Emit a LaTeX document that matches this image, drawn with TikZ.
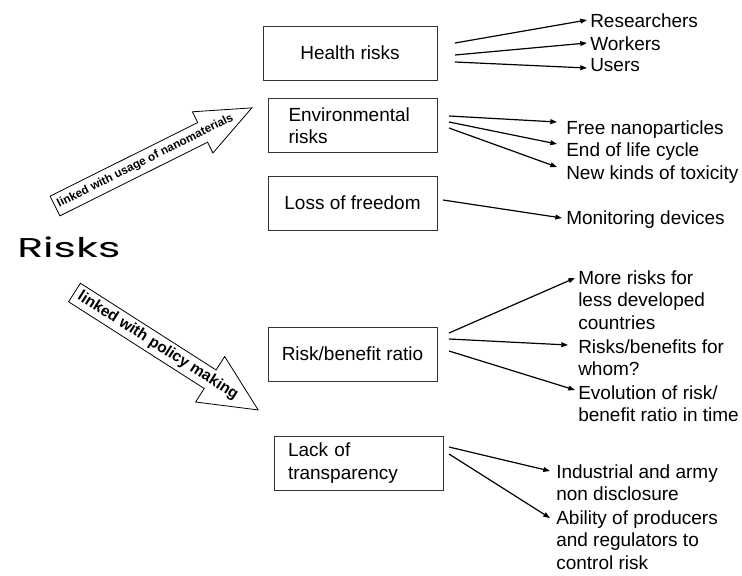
\documentclass[tikz,border=0pt]{standalone}
\usepackage{fontspec}
\usepackage{graphicx}
\setmainfont{Liberation Sans}
\newfontfamily\risksfont{Poppins}
\usetikzlibrary{arrows.meta,calc}

\tikzset{
  riskbox/.style={draw=black!80, line width=0.6pt, minimum width=126.75pt, minimum height=40.5pt, inner sep=0pt, font=\fontsize{14.25}{16.9}\selectfont},
  leftbox/.style={riskbox, align=left, text width=#1},
  item/.style={anchor=north west, inner sep=0pt, align=left, font=\fontsize{14.25}{16.9}\selectfont},
  conn/.style={line width=0.9pt, -{Triangle[length=5pt,width=3.6pt]}},
  bigarrow/.style={draw=black, line width=0.6pt, fill=white},
  arrowtext/.style={font=\bfseries\fontsize{#1}{#1}\selectfont, inner sep=0pt},
}

\begin{document}
\begin{tikzpicture}[x=0.75pt,y=0.75pt,yscale=-1,xscale=1]
\useasboundingbox (0,0) rectangle (742,575);

% Title
\node[inner sep=0pt, anchor=west] (risks) at (17,247) {\resizebox{77.25pt}{15.5pt}{\risksfont Risks}};

%Block Arrows
\begin{scope}[shift={(55,206)}, rotate=-26.5]
\draw[bigarrow] (0,-11) -- (165,-11) -- (165,-23) -- (220,0) -- (165,23) -- (165,11) -- (0,11) -- cycle;
\node[arrowtext=8.8, rotate=26.5] (usage) at (101,0) {linked with usage of nanomaterials};
\end{scope}
\begin{scope}[shift={(74.5,292.5)}, rotate=32.6]
\draw[bigarrow] (0,-11) -- (161,-11) -- (161,-27) -- (218,0) -- (161,27) -- (161,11) -- (0,11) -- cycle;
\node[arrowtext=11.6, rotate=-32.6] (policy) at (99,0) {linked with policy making};
\end{scope}

% Boxes
\node[riskbox, minimum width=130.5pt] (health) at (350,53) {Health risks};
\node[leftbox=96pt] (env) at (352.5,125.5) {Environmental\\risks};
\node[riskbox] (loss) at (352.5,203) {Loss of freedom};
\node[riskbox] (ratio) at (352.5,354) {Risk/benefit ratio};
\node[leftbox=105.75pt] (lack) at (358.5,463) {Lack of\\transparency};

% Text Nodes
\node[item] (res) at (590,13) {Researchers};
\node[item] (work) at (590,36) {Workers};
\node[item] (users) at (590,58) {Users};
\node[item] (free) at (566,120) {Free nanoparticles};
\node[item] (life) at (566,142) {End of life cycle};
\node[item] (tox) at (566,165) {New kinds of toxicity};
\node[item] (mon) at (566,210) {Monitoring devices};
\node[item] (more) at (578,270) {More risks for\\less developed\\countries};
\node[item] (whom) at (578,339) {Risks/benefits for\\whom?};
\node[item] (evol) at (578,385) {Evolution of risk/\\benefit ratio in time};
\node[item] (ind) at (556,464) {Industrial and army\\non disclosure};
\node[item] (abil) at (556,510) {Ability of producers\\and regulators to\\control risk};

% Starts
\coordinate (h1) at (455,43);
\coordinate (h2) at (455,55);
\coordinate (h3) at (455,62);
\coordinate (e1) at (449,116);
\coordinate (e2) at (449,122);
\coordinate (e3) at (449,128);
\coordinate (l1) at (443,200);
\coordinate (r1) at (449,333);
\coordinate (r2) at (449,339);
\coordinate (r3) at (449,351);
\coordinate (t1) at (449,447);
\coordinate (t2) at (449,454);

%Straight Lines
\draw[conn] (h1) -- ($(res.north west)+(-3,7)$);
\draw[conn] (h2) -- ($(work.north west)+(-3,7)$);
\draw[conn] (h3) -- ($(users.north west)+(-3,10)$);
\draw[conn] (e1) -- ($(free.north west)+(-9,2)$);
\draw[conn] (e2) -- ($(life.north west)+(-9,2)$);
\draw[conn] (e3) -- ($(tox.north west)+(-9,2)$);
\draw[conn] (l1) -- ($(mon.north west)+(-4,8)$);
\draw[conn] (r1) -- ($(more.north west)+(-3,8)$);
\draw[conn] (r2) -- ($(whom.north west)+(-10,6)$);
\draw[conn] (r3) -- ($(evol.north west)+(-3,5)$);
\draw[conn] (t1) -- ($(ind.north west)+(-6,7)$);
\draw[conn] (t2) -- ($(abil.north west)+(-6,8)$);

\end{tikzpicture}
\end{document}
